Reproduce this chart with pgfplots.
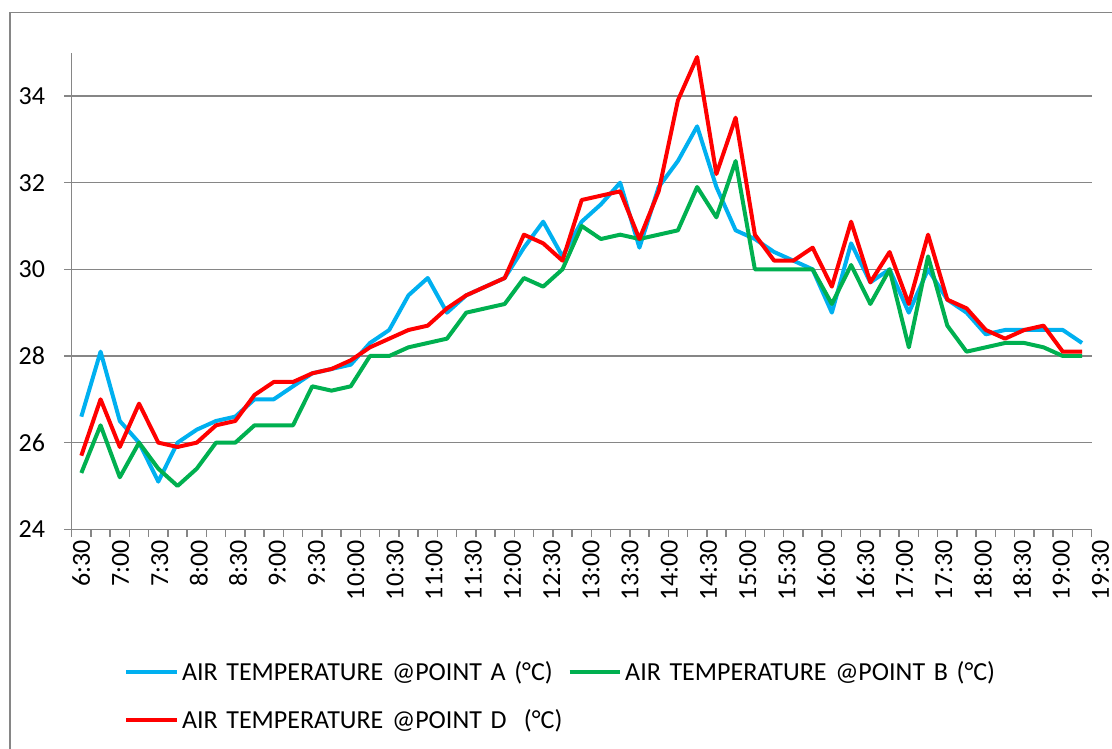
\documentclass[border=0pt]{standalone}
\usepackage{fontspec}
\setmainfont{Carlito}
\usepackage{pgfplots}
\usepackage{pgfplotstable}
\pgfplotsset{compat=1.18}
\definecolor{cA}{RGB}{0,176,240}
\definecolor{cB}{RGB}{0,176,80}
\definecolor{cD}{RGB}{255,0,0}
\definecolor{gridgray}{RGB}{134,134,134}

\pgfplotstableread{
i A B D
0 26.6 25.3 25.7
1 28.1 26.4 27.0
2 26.5 25.2 25.9
3 26.0 26.0 26.9
4 25.1 25.4 26.0
5 26.0 25.0 25.9
6 26.3 25.4 26.0
7 26.5 26.0 26.4
8 26.6 26.0 26.5
9 27.0 26.4 27.1
10 27.0 26.4 27.4
11 27.3 26.4 27.4
12 27.6 27.3 27.6
13 27.7 27.2 27.7
14 27.8 27.3 27.9
15 28.3 28.0 28.2
16 28.6 28.0 28.4
17 29.4 28.2 28.6
18 29.8 28.3 28.7
19 29.0 28.4 29.1
20 29.4 29.0 29.4
21 29.6 29.1 29.6
22 29.8 29.2 29.8
23 30.5 29.8 30.8
24 31.1 29.6 30.6
25 30.3 30.0 30.2
26 31.1 31.0 31.6
27 31.5 30.7 31.7
28 32.0 30.8 31.8
29 30.5 30.7 30.7
30 31.9 30.8 31.8
31 32.5 30.9 33.9
32 33.3 31.9 34.9
33 31.9 31.2 32.2
34 30.9 32.5 33.5
35 30.7 30.0 30.8
36 30.4 30.0 30.2
37 30.2 30.0 30.2
38 30.0 30.0 30.5
39 29.0 29.2 29.6
40 30.6 30.1 31.1
41 29.7 29.2 29.7
42 30.0 30.0 30.4
43 29.0 28.2 29.2
44 30.0 30.3 30.8
45 29.3 28.7 29.3
46 29.0 28.1 29.1
47 28.5 28.2 28.6
48 28.6 28.3 28.4
49 28.6 28.3 28.6
50 28.6 28.2 28.7
51 28.6 28.0 28.1
52 28.3 28.0 28.1
}\data

\begin{document}
\fontsize{26pt}{31pt}\selectfont
\begin{tikzpicture}
\draw[gridgray, line width=1.3pt] (10pt,-5pt) -- (10pt,736.3pt) -- (1120pt,736.3pt);
\begin{axis}[
  at={(71.7pt,219.7pt)}, anchor=south west,
  scale only axis, width=1020pt, height=476.6pt,
  xmin=-0.5, xmax=52.5, ymin=24, ymax=35,
  axis x line*=bottom, axis y line*=left,
  axis line style={gridgray, line width=1.5pt, -},
  ytick={24,26,...,34},
  minor ytick={24,26,...,34},
  xtick={-0.5,1.537,3.574,5.611,7.648,9.685,11.722,13.759,15.796,17.833,19.87,21.907,23.944,25.981,28.018,30.055,32.092,34.129,36.166,38.203,40.24,42.277,44.314,46.351,48.388,50.425,52.462},
  xticklabels={6:30,7:00,7:30,8:00,8:30,9:00,9:30,10:00,10:30,11:00,11:30,12:00,12:30,13:00,13:30,14:00,14:30,15:00,15:30,16:00,16:30,17:00,17:30,18:00,18:30,19:00,19:30},
  minor xtick={-0.5,0.5,...,52.5},
  major tick length=0pt, minor tick length=7.5pt, tick align=outside,
  tick style={gridgray, line width=1.5pt},
  ymajorgrids, major grid style={gridgray, line width=1.5pt},
  /pgf/number format/assume math mode=true,
  yticklabel style={anchor=east, inner sep=0pt, xshift=-26.5pt},
  xticklabel style={xshift=9.62pt, yshift=-11pt, rotate=90, anchor=east, inner sep=0pt},
  legend columns=2,
  legend cell align=left,
  legend style={
    at={(0.05157,-0.2756)}, anchor=north west,
    draw=none, fill=none, inner sep=0pt, outer sep=0pt,
    column sep=3pt, row sep=24.4pt,
    nodes={inner sep=0pt, text height=20pt, text depth=3.3pt, text width=384pt, align=left},
    /tikz/every even column/.append style={column sep=1.5pt},
  },
  legend image code/.code={\draw[#1, line width=4pt] (0pt,0pt) -- (50.7pt,0pt);},
  every axis plot/.append style={line width=4pt, line join=round, mark=none},
]
\addplot[cA] table[x=i, y=A] {\data};
\addlegendentry{\mbox{AIR TEMPERATURE @POINT A (°C)}}
\addplot[cB] table[x=i, y=B] {\data};
\addlegendentry{\mbox{AIR TEMPERATURE @POINT B (°C)}}
\addplot[cD] table[x=i, y=D] {\data};
\addlegendentry{\mbox{AIR TEMPERATURE @POINT D\ \ (°C)}}
\end{axis}
\pgfresetboundingbox
\path[use as bounding box] (0pt,0pt) rectangle (1112pt,749pt);
\end{tikzpicture}
\end{document}
